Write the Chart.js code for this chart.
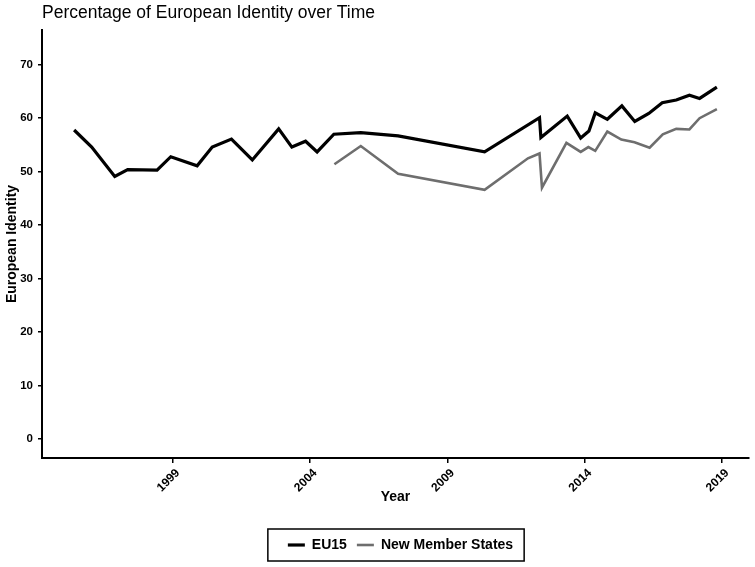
<!DOCTYPE html>
<html>
<head>
<meta charset="utf-8">
<title>Percentage of European Identity over Time</title>
<script src="https://cdn.jsdelivr.net/npm/chart.js@4"></script>
<style>
  html, body { margin: 0; padding: 0; background: #fff; }
  #wrap { width: 755px; height: 567px; }
</style>
</head>
<body>
<div id="wrap"><canvas id="identityChart" width="755" height="567"></canvas></div>
<script>
// Survey waves (year as decimal) and share feeling European
const eu15Years = [1995.40, 1996.04, 1996.88, 1997.35, 1998.42, 1998.92, 1999.88, 2000.43,
    2001.13, 2001.89, 2002.85, 2003.33, 2003.83, 2004.25, 2004.86, 2005.84, 2007.20,
    2010.35, 2012.35, 2012.40, 2013.36, 2013.85, 2014.15, 2014.38, 2014.82, 2015.35,
    2015.82, 2016.33, 2016.82, 2017.33, 2017.81, 2018.18, 2018.81];
const eu15Values = [57.8, 54.6, 49.1, 50.4, 50.3, 52.8, 51.1, 54.6,
    56.1, 52.2, 58.0, 54.6, 55.7, 53.7, 57.0, 57.3, 56.7,
    53.7, 60.1, 56.4, 60.4, 56.3, 57.6, 61.0, 59.8, 62.3,
    59.4, 60.9, 62.9, 63.4, 64.3, 63.7, 65.8];

const nmsYears = [2004.88, 2005.84, 2007.20, 2010.35, 2011.93, 2012.35, 2012.44, 2013.33,
    2013.85, 2014.13, 2014.38, 2014.82, 2015.33, 2015.81, 2016.36, 2016.84, 2017.33,
    2017.81, 2018.18, 2018.81];
const nmsValues = [51.4, 54.8, 49.6, 46.6, 52.5, 53.4, 47.0, 55.4,
    53.7, 54.6, 53.9, 57.5, 56.0, 55.5, 54.5, 57.0, 58.0,
    57.9, 60.0, 61.7];

const xTickYears = [1999, 2004, 2009, 2014, 2019];
const yTickValues = [0, 10, 20, 30, 40, 50, 60, 70];

const fontFamily = '"Liberation Sans", Arial, Helvetica, sans-serif';

// Nudge the legend right (its width counts a trailing gap) and frame it
const legendFrame = {
    id: 'legendFrame',
    afterLayout(chart) {
        if (chart.legend) {
            chart.legend.left += 5;
            chart.legend.right += 5;
        }
    },
    afterDraw(chart) {
        const boxes = chart.legend && chart.legend.legendHitBoxes;
        if (!boxes || !boxes.length) return;
        const first = boxes[0];
        const last = boxes[boxes.length - 1];
        const left = first.left - 20;
        const right = last.left + last.width + 11;
        const mid = first.top + first.height / 2;
        const ctx = chart.ctx;
        ctx.save();
        ctx.strokeStyle = '#000';
        ctx.lineWidth = 1.5;
        ctx.strokeRect(left, mid - 16, right - left, 32);
        ctx.restore();
    }
};

function toPoints(xs, ys) {
    return xs.map((x, i) => ({ x: x, y: ys[i] }));
}

const ctx = document.getElementById('identityChart').getContext('2d');

new Chart(ctx, {
    type: 'line',
    data: {
        datasets: [
            {
                label: 'EU15',
                data: toPoints(eu15Years, eu15Values),
                borderColor: '#000000',
                backgroundColor: '#000000',
                borderWidth: 3.2,
                pointRadius: 0,
                tension: 0
            },
            {
                label: 'New Member States',
                data: toPoints(nmsYears, nmsValues),
                borderColor: '#6e6e6e',
                backgroundColor: '#6e6e6e',
                borderWidth: 2.6,
                pointRadius: 0,
                tension: 0
            }
        ]
    },
    options: {
        responsive: false,
        animation: false,
        layout: { padding: { left: 0, right: 6, top: 0, bottom: 5 } },
        plugins: {
            title: {
                display: true,
                text: 'Percentage of European Identity over Time',
                align: 'start',
                fullSize: false,
                color: '#000',
                font: { family: fontFamily, size: 17.5, weight: 'normal' },
                padding: { top: 3, bottom: 6 }
            },
            legend: {
                position: 'bottom',
                fullSize: false,
                labels: {
                    usePointStyle: true,
                    pointStyle: 'line',
                    pointStyleWidth: 17,
                    color: '#000',
                    font: { family: fontFamily, size: 14, weight: 'bold' },
                    padding: 10
                }
            },
            tooltip: { enabled: false }
        },
        scales: {
            x: {
                type: 'linear',
                min: 1994.23,
                max: 2019.98,
                afterBuildTicks: (scale) => {
                    scale.ticks = xTickYears.map(v => ({ value: v }));
                },
                afterFit: (scale) => {
                    scale.height = 70;
                    scale.paddingLeft = 0;
                    scale.paddingRight = 0;
                },
                ticks: {
                    minRotation: 45,
                    maxRotation: 45,
                    labelOffset: 5,
                    padding: 3,
                    color: '#000',
                    font: { family: fontFamily, size: 12, weight: 'bold' },
                    callback: (v) => String(v)
                },
                grid: { display: true, drawOnChartArea: false, tickLength: 5, color: '#000', lineWidth: 1.5 },
                border: { display: true, color: '#000', width: 2 },
                title: {
                    display: true,
                    text: 'Year',
                    color: '#000',
                    font: { family: fontFamily, size: 14, weight: 'bold' },
                    padding: { top: 0, bottom: 22 }
                }
            },
            y: {
                min: -3.55,
                max: 76.5,
                afterBuildTicks: (scale) => {
                    scale.ticks = yTickValues.map(v => ({ value: v }));
                },
                afterFit: (scale) => {
                    scale.width = 42;
                    scale.paddingTop = 0;
                    scale.paddingBottom = 0;
                },
                ticks: {
                    padding: 5,
                    color: '#000',
                    font: { family: fontFamily, size: 11.5, weight: 'bold' }
                },
                grid: { display: true, drawOnChartArea: false, tickLength: 4, color: '#000', lineWidth: 1.5 },
                border: { display: true, color: '#000', width: 2 },
                title: {
                    display: true,
                    text: 'European Identity',
                    color: '#000',
                    font: { family: fontFamily, size: 14, weight: 'bold' },
                    padding: { top: 4, bottom: 0 }
                }
            }
        }
    },
    plugins: [legendFrame]
});
</script>
</body>
</html>
